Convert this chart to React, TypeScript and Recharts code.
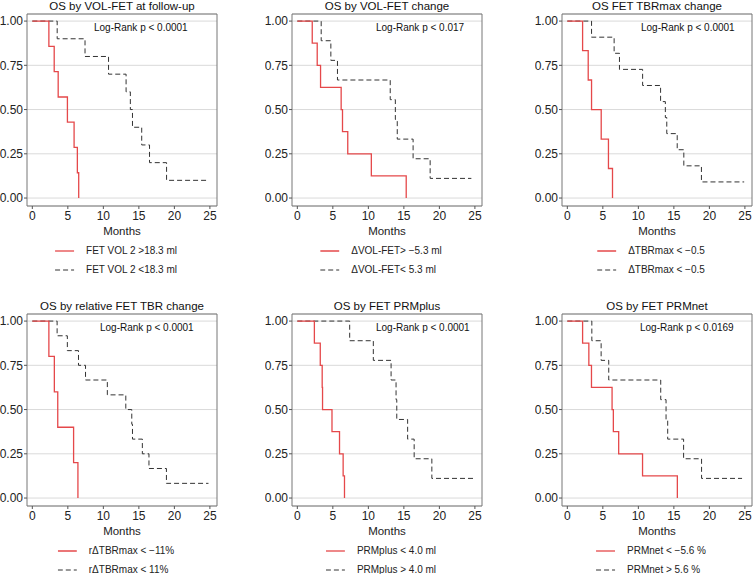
import { LineChart, Line, XAxis, YAxis, CartesianGrid, ReferenceArea } from "recharts"

// ---- survival steps (months / survival fraction) ----
// OS by VOL-FET at follow-up
const volFuRedT = [0, 2.33, 3.08, 3.64, 4.94, 5.88, 6.34, 6.53]
const volFuRedS = [1, 0.857, 0.714, 0.571, 0.429, 0.286, 0.143, 0]
const volFuGrayT = [0, 3.5, 7.42, 10.73, 13.2, 13.8, 14.1, 15.4, 16.5, 18.9, 24.5]
const volFuGrayS = [1, 0.9, 0.8, 0.7, 0.6, 0.5, 0.4, 0.3, 0.2, 0.1, 0.1]

// OS by VOL-FET change
const volChRedT = [0, 2.1, 2.8, 3.27, 6.17, 6.36, 7.1, 10.42, 15.33]
const volChRedS = [1, 0.875, 0.75, 0.625, 0.5, 0.375, 0.25, 0.125, 0]
const volChGrayT = [0, 3.36, 4.72, 5.65, 13.08, 13.8, 14.07, 16.3, 18.7, 24.5]
const volChGrayS = [1, 0.889, 0.778, 0.667, 0.556, 0.444, 0.333, 0.222, 0.111, 0.111]

// OS FET TBRmax change
const tbrRedT = [0, 2.15, 2.94, 3.41, 4.77, 5.79, 6.36]
const tbrRedS = [1, 0.833, 0.667, 0.5, 0.333, 0.167, 0]
const tbrGrayT = [0, 3.41, 6.59, 7.34, 10.6, 13.13, 13.8, 14.0, 15.47, 16.4, 18.88, 24.9]
const tbrGrayS = [1, 0.909, 0.818, 0.727, 0.636, 0.545, 0.455, 0.364, 0.273, 0.182, 0.091, 0.091]

// OS by relative FET TBR change
const relRedT = [0, 2.33, 3.1, 3.58, 5.81, 6.42]
const relRedS = [1, 0.8, 0.6, 0.4, 0.2, 0]
const relGrayT = [0, 3.49, 4.93, 6.5, 7.49, 10.56, 13.16, 14.0, 14.1, 15.49, 16.42, 18.88, 24.8]
const relGrayS = [1, 0.917, 0.833, 0.75, 0.667, 0.583, 0.5, 0.417, 0.333, 0.25, 0.167, 0.083, 0.083]

// OS by FET PRMplus
const plusRedT = [0, 2.4, 3.23, 3.5, 3.55, 4.88, 5.94, 6.45, 6.64]
const plusRedS = [1, 0.875, 0.75, 0.625, 0.5, 0.375, 0.25, 0.125, 0]
const plusGrayT = [0, 7.37, 10.7, 13.2, 13.9, 14.0, 15.53, 16.45, 18.94, 24.98]
const plusGrayS = [1, 0.889, 0.778, 0.667, 0.556, 0.444, 0.333, 0.222, 0.111, 0.111]

// OS by FET PRMnet
const netRedT = [0, 2.15, 3.03, 3.4, 6.3, 6.48, 7.23, 10.59, 15.49]
const netRedS = [1, 0.875, 0.75, 0.625, 0.5, 0.375, 0.25, 0.125, 0]
const netGrayT = [0, 3.45, 4.76, 5.83, 13.15, 13.9, 14.13, 16.37, 18.9, 24.6]
const netGrayS = [1, 0.889, 0.778, 0.667, 0.556, 0.444, 0.333, 0.222, 0.111, 0.111]

const titles = [
    "OS by VOL-FET at follow-up",
    "OS by VOL-FET change",
    "OS FET TBRmax change",
    "OS by relative FET TBR change",
    "OS by FET PRMplus",
    "OS by FET PRMnet",
]
const pValues = [
    "Log-Rank p < 0.0001",
    "Log-Rank p < 0.017",
    "Log-Rank p < 0.0001",
    "Log-Rank p < 0.0001",
    "Log-Rank p < 0.0001",
    "Log-Rank p < 0.0169",
]
const redLabels = ["FET VOL 2 >18.3 ml", "\u0394VOL-FET> \u22125.3 ml", "\u0394TBRmax < \u22120.5", "r\u0394TBRmax < \u221211%", "PRMplus < 4.0 ml", "PRMnet < \u22125.6 %"]
const grayLabels = ["FET VOL 2 <18.3 ml", "\u0394VOL-FET< 5.3 ml", "\u0394TBRmax < \u22120.5", "r\u0394TBRmax < 11%", "PRMplus > 4.0 ml", "PRMnet > 5.6 %"]

const xTicks = [0, 5, 10, 15, 20, 25]
const yTicks = [0, 0.25, 0.5, 0.75, 1]

const RED = "#E5484A"
const GRAY = "#333333"
const FONT = '"Liberation Sans", Arial, sans-serif'

const toPts = (t: number[], s: number[]) => t.map((v, i) => ({ t: v, s: s[i] }))

const series = [
    [toPts(volFuRedT, volFuRedS), toPts(volFuGrayT, volFuGrayS)],
    [toPts(volChRedT, volChRedS), toPts(volChGrayT, volChGrayS)],
    [toPts(tbrRedT, tbrRedS), toPts(tbrGrayT, tbrGrayS)],
    [toPts(relRedT, relRedS), toPts(relGrayT, relGrayS)],
    [toPts(plusRedT, plusRedS), toPts(plusGrayT, plusGrayS)],
    [toPts(netRedT, netRedS), toPts(netGrayT, netGrayS)],
]

// layout of the 3x2 grid
const panelLeft = [0, 265, 535]
const panelTop = [0, 300]
const pOffset = [67, 84, 79, 73, 84, 78]

const Y_W = 27
const PLOT_W = 190
const CH_W = 225
const CH_H = 238

function Panel({ idx }: { idx: number }) {
    const left = panelLeft[idx % 3]
    const top = panelTop[Math.floor(idx / 3)]
    const [red, gray] = series[idx]
    const center = Y_W + PLOT_W / 2

    return (
        <div style={{ position: "absolute", left, top, width: CH_W, height: 290 }}>
            <div
                style={{
                    position: "absolute",
                    left: center - 100,
                    width: 200,
                    top: 0,
                    textAlign: "center",
                    fontSize: 11.5,
                    lineHeight: "13px",
                    color: "#111",
                }}
            >
                {titles[idx]}
            </div>
            <LineChart width={CH_W} height={CH_H} margin={{ top: 14, right: CH_W - Y_W - PLOT_W, left: 0, bottom: 0 }}>
                <CartesianGrid vertical={false} stroke="#dadada" />
                <XAxis
                    type="number"
                    dataKey="t"
                    domain={[-0.75, 26]}
                    ticks={xTicks}
                    tickSize={3}
                    tickMargin={2}
                    height={32}
                    axisLine={false}
                    tickLine={{ stroke: "#555" }}
                    tick={{ fontSize: 12, fill: "#222", fontFamily: FONT }}
                    label={{ value: "Months", position: "insideBottom", offset: 3, fontSize: 11.5, fill: "#222", fontFamily: FONT }}
                />
                <YAxis
                    type="number"
                    domain={[-0.045, 1.04]}
                    ticks={yTicks}
                    width={Y_W}
                    tickSize={3}
                    tickMargin={1}
                    axisLine={false}
                    tickLine={{ stroke: "#555" }}
                    tickFormatter={(v: number) => v.toFixed(2)}
                    tick={{ fontSize: 12, fill: "#222", fontFamily: FONT }}
                />
                <ReferenceArea x1={-0.75} x2={26} y1={-0.045} y2={1.04} fill="none" stroke="#777" strokeWidth={1} />
                <Line
                    data={gray}
                    dataKey="s"
                    type="stepAfter"
                    stroke={GRAY}
                    strokeWidth={1}
                    strokeDasharray="5 3"
                    dot={false}
                    activeDot={false}
                    isAnimationActive={false}
                />
                <Line
                    data={red}
                    dataKey="s"
                    type="stepAfter"
                    stroke={RED}
                    strokeWidth={1.3}
                    dot={false}
                    activeDot={false}
                    isAnimationActive={false}
                />
            </LineChart>
            <div
                style={{
                    position: "absolute",
                    left: Y_W + pOffset[idx],
                    top: 22,
                    fontSize: 10,
                    lineHeight: "12px",
                    color: "#111",
                    whiteSpace: "nowrap",
                }}
            >
                {pValues[idx]}
            </div>
            {/* legend */}
            <div
                style={{
                    position: "absolute",
                    top: 241,
                    left: center - 6,
                    transform: "translateX(-50%)",
                    fontSize: 10,
                    color: "#222",
                    whiteSpace: "nowrap",
                }}
            >
                <div style={{ display: "flex", alignItems: "center", height: 19 }}>
                    <svg width={31} height={4} style={{ marginRight: 0 }}>
                        <line x1={0} y1={2} x2={19} y2={2} stroke={RED} strokeWidth={1.3} />
                    </svg>
                    <span>{redLabels[idx]}</span>
                </div>
                <div style={{ display: "flex", alignItems: "center", height: 19 }}>
                    <svg width={31} height={4}>
                        <line x1={0} y1={2} x2={19} y2={2} stroke={GRAY} strokeWidth={1} strokeDasharray="5 3" />
                    </svg>
                    <span>{grayLabels[idx]}</span>
                </div>
            </div>
        </div>
    )
}

export default function App() {
    return (
        <div
            style={{
                position: "absolute",
                left: 0,
                top: 0,
                width: 755,
                height: 574,
                background: "#fff",
                overflow: "hidden",
                fontFamily: FONT,
            }}
        >
            {titles.map((_, i) => (
                <Panel key={i} idx={i} />
            ))}
        </div>
    )
}
